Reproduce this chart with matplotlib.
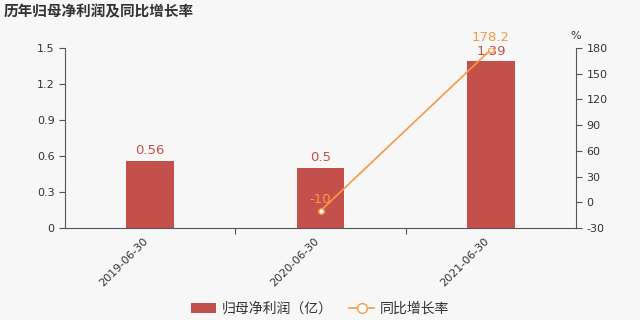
import numpy as np
import matplotlib.pyplot as plt
from matplotlib.patches import Patch
from matplotlib.lines import Line2D

plt.rcParams['font.family'] = ['DejaVu Sans', 'Noto Sans CJK SC']
plt.rcParams['axes.unicode_minus'] = False

dates = ['2019-06-30', '2020-06-30', '2021-06-30']
profit = [0.56, 0.5, 1.39]
growth_x = [1, 2]
growth = [-10, 178.2]

bar_color = '#c4504c'
line_color = '#f59a42'
bg = '#f7f7f7'
cjk = ['Noto Sans CJK SC', 'DejaVu Sans']

fig = plt.figure(figsize=(6.4, 3.2), dpi=100, facecolor=bg)
ax = fig.add_axes([0.1016, 0.2875, 0.7984, 0.5625])
ax.set_facecolor(bg)
ax2 = ax.twinx()

x = np.arange(len(dates)) + 0.5
ax.bar(x, profit, width=0.28, color=bar_color, zorder=2)
for xi, v in zip(x, profit):
    ax.text(xi, v + 0.03, str(v), ha='center', va='bottom', color=bar_color, fontsize=9.5)

ax.set_xlim(0, 3)
ax.set_ylim(0, 1.5)
ax.set_yticks(np.arange(0, 1.51, 0.3))
ax.set_yticklabels(['0', '0.3', '0.6', '0.9', '1.2', '1.5'])
ax.set_xticks([1, 2])
ax.set_xticklabels([])
ax.set_xticks(x - 0.04, minor=True)
ax.set_xticklabels(dates, minor=True, rotation=45, ha='right', rotation_mode='anchor')
ax.tick_params(axis='x', which='minor', length=0, pad=6, labelsize=8, colors='#333333')
ax.tick_params(axis='x', which='major', length=4, color='#555555')
ax.tick_params(axis='y', labelsize=8, colors='#333333', length=4)
ax.tick_params(axis='y', color='#555555')
for s in ['top', 'right']:
    ax.spines[s].set_visible(False)
for s in ['left', 'bottom']:
    ax.spines[s].set_color('#555555')

gx = np.array(growth_x) + 0.5
ax2.plot(gx, growth, color=line_color, lw=1.2, marker='o', ms=4,
         mfc='white', mec=line_color, mew=1, zorder=3)
for xi, v in zip(gx, growth):
    ax2.text(xi, v + 6, f'{v:g}', ha='center', va='bottom', color=line_color, fontsize=9.5)
ax2.set_ylim(-30, 180)
ax2.set_yticks(np.arange(-30, 181, 30))
ax2.tick_params(axis='y', labelsize=8, colors='#333333', length=4)
ax2.tick_params(axis='y', color='#555555')
for s in ['top', 'left', 'bottom']:
    ax2.spines[s].set_visible(False)
ax2.spines['right'].set_color('#555555')
ax2.text(1.0, 1.04, '%', transform=ax2.transAxes, ha='center', va='bottom', fontsize=8, color='#333333')

fig.text(0.005, 0.965, '历年归母净利润及同比增长率', ha='left', va='center', fontsize=10.5,
         fontweight='bold', color='#333333', family=cjk)

handles = [Patch(facecolor=bar_color, edgecolor='none'),
           Line2D([], [], color=line_color, lw=1.2, marker='o', ms=7, mfc='white', mec=line_color)]
fig.legend(handles, ['归母净利润（亿）', '同比增长率'], loc='center', bbox_to_anchor=(0.5, 0.035),
           ncol=2, frameon=False, handlelength=1.8, handletextpad=0.4, columnspacing=1.2,
           labelcolor='#333333', prop={'family': cjk, 'size': 10})

fig.savefig('out.png', dpi=100, facecolor=bg)
